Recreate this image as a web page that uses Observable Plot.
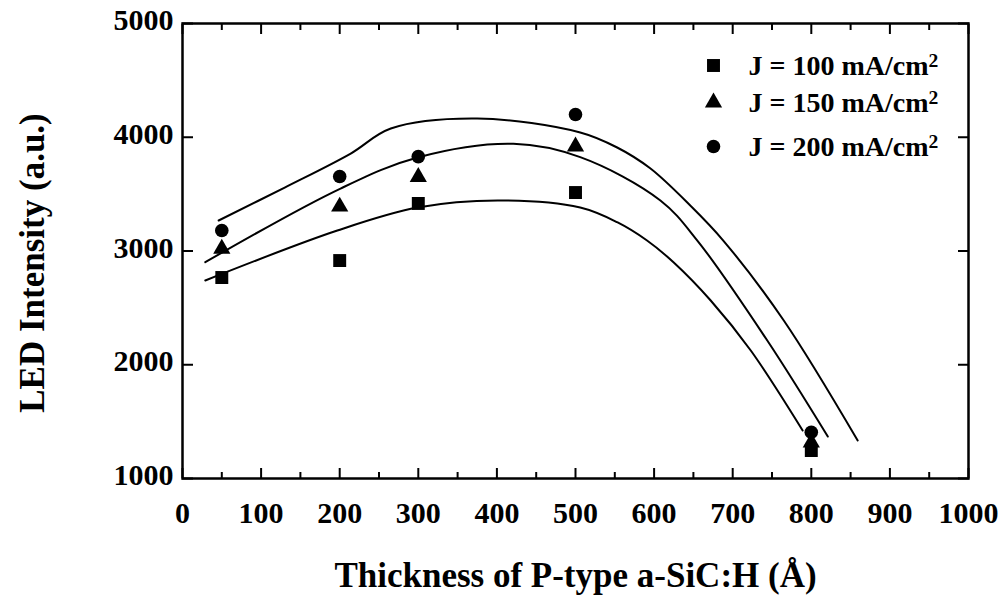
<!DOCTYPE html>
<html>
<head>
<meta charset="utf-8">
<script src="https://cdn.jsdelivr.net/npm/d3@7"></script>
<script src="https://cdn.jsdelivr.net/npm/@observablehq/plot@0.6"></script>
<style>
  html, body { margin: 0; padding: 0; background: #fff; }
  #chart { width: 1007px; height: 600px; }
</style>
</head>
<body>
<div id="chart"></div>
<script>
// ---- data ----
const thickness = [50, 200, 300, 500, 800];
const j100 = [2767, 2916, 3418, 3514, 1246];
const j150 = [3020, 3390, 3650, 3919, 1316];
const j200 = [3180, 3655, 3830, 4200, 1407];

const fit100X = [29, 197, 299, 401, 506, 553, 591, 625, 672, 723, 789];
const fit100Y = [2741, 3180, 3382, 3444, 3382, 3253, 3092, 2899, 2565, 2125, 1422];
const fit150X = [29, 201, 299, 421, 506, 608, 655, 744, 821];
const fit150Y = [2902, 3549, 3822, 3942, 3825, 3444, 3092, 2213, 1369];
const fit200X = [46, 130, 214, 265, 375, 506, 553, 595, 646, 688, 765, 859];
const fit200Y = [3268, 3558, 3857, 4077, 4165, 4042, 3910, 3727, 3400, 3092, 2389, 1334];

const seriesNames = ["J = 100 mA/cm", "J = 150 mA/cm", "J = 200 mA/cm"];
const seriesSymbols = ["square", "triangle", "circle"];

const xMajor = [0, 100, 200, 300, 400, 500, 600, 700, 800, 900, 1000];
const xMinor = [50, 150, 250, 350, 450, 550, 650, 750, 850, 950];
const yMajor = [1000, 2000, 3000, 4000, 5000];

const xTitle = "Thickness of P-type a-SiC:H (Å)";
const yTitle = "LED Intensity (a.u.)";

// ---- build tables ----
const points = [j100, j150, j200].flatMap((arr, s) =>
  arr.map((v, i) => ({x: thickness[i], y: v, s})));
const fits = [[fit100X, fit100Y], [fit150X, fit150Y], [fit200X, fit200Y]].flatMap(([xs, ys], s) =>
  xs.map((x, i) => ({x, y: ys[i], s})));

const font = "'Liberation Serif', 'Times New Roman', serif";
const symR = {square: 7.3, triangle: 6.4, circle: 6.8};

const marks = [
  Plot.frame({stroke: "black", strokeWidth: 2.5}),
  // inward ticks
  Plot.axisX({anchor: "bottom", ticks: xMajor, tickSize: 10, dy: -10, fill: "none", strokeWidth: 2, label: null}),
  Plot.axisX({anchor: "bottom", ticks: xMinor, tickSize: 6, dy: -6, fill: "none", strokeWidth: 2, label: null}),
  Plot.axisX({anchor: "top", ticks: xMajor, tickSize: 10, dy: 10, fill: "none", strokeWidth: 2, label: null}),
  Plot.axisX({anchor: "top", ticks: xMinor, tickSize: 6, dy: 6, fill: "none", strokeWidth: 2, label: null}),
  Plot.axisY({anchor: "left", ticks: yMajor, tickSize: 11, dx: 11, fill: "none", strokeWidth: 2, label: null}),
  Plot.axisY({anchor: "right", ticks: yMajor, tickSize: 11, dx: -11, fill: "none", strokeWidth: 2, label: null}),
  // tick labels
  Plot.axisX({anchor: "bottom", ticks: xMajor, tickSize: 0, tickPadding: 23, fontSize: 30, fontWeight: "bold", label: null, tickFormat: d => String(d)}),
  Plot.axisY({anchor: "left", ticks: yMajor, tickSize: 0, tickPadding: 9, fontSize: 30, fontWeight: "bold", label: null, tickFormat: d => String(d), dy: -3}),
  // titles
  Plot.text([xTitle], {frameAnchor: "bottom", dy: 97, text: d => d, textAnchor: "middle", lineAnchor: "middle", fontSize: 35, fontWeight: "bold", fill: "black"}),
  Plot.text([yTitle], {frameAnchor: "left", dx: -150, dy: 12, rotate: -90, text: d => d, textAnchor: "middle", lineAnchor: "middle", fontSize: 35, fontWeight: "bold", fill: "black"}),
  // fit lines
  Plot.line(fits, {x: "x", y: "y", z: "s", curve: "catmull-rom", stroke: "black", strokeWidth: 2})
];

// data points
seriesSymbols.forEach((sym, s) => {
  marks.push(Plot.dot(points.filter(d => d.s === s), {x: "x", y: "y", symbol: sym, r: symR[sym], fill: "black", stroke: "none"}));
});

// legend
const legendDy = [42, 79, 123];
seriesSymbols.forEach((sym, s) => {
  marks.push(Plot.dot([seriesNames[s]], {frameAnchor: "top-right", dx: -255, dy: legendDy[s], symbol: sym, r: symR[sym], fill: "black", stroke: "none"}));
  marks.push(Plot.text([seriesNames[s]], {frameAnchor: "top-right", dx: -220, dy: legendDy[s] + 1, text: d => d, textAnchor: "start", lineAnchor: "middle", fontSize: 28, fontWeight: "bold", fill: "black"}));
});

const chart = Plot.plot({
  width: 1007,
  height: 600,
  marginLeft: 182,
  marginRight: 39,
  marginTop: 23,
  marginBottom: 122,
  x: {domain: [0, 1000], axis: null},
  y: {domain: [1000, 5000], axis: null},
  style: {fontFamily: font, background: "white", color: "black", overflow: "visible"},
  marks
});

// superscript "2" on legend labels
d3.select(chart).selectAll("text").each(function () {
  const t = this.textContent;
  if (seriesNames.includes(t)) {
    const sel = d3.select(this);
    sel.text(t);
    sel.append("tspan").attr("dy", "-0.45em").attr("font-size", "0.7em").text("2");
  }
});

document.getElementById("chart").appendChild(chart);
</script>
</body>
</html>
